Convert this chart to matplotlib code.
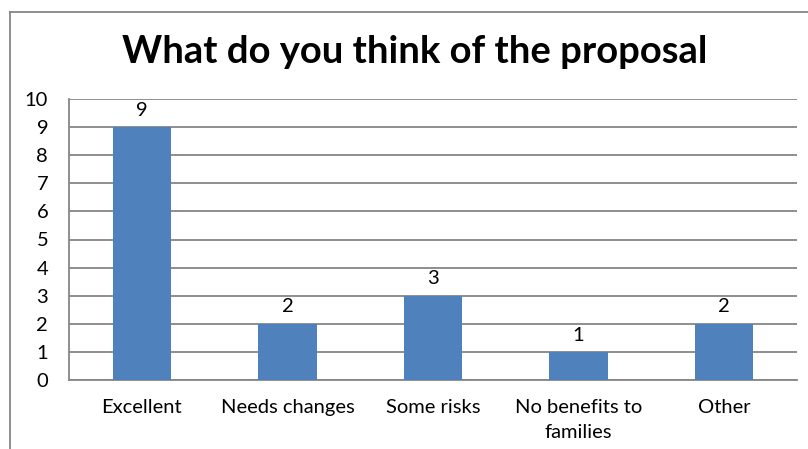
import matplotlib.pyplot as plt
from matplotlib.lines import Line2D

categories = ['Excellent', 'Needs changes', 'Some risks', 'No benefits to\nfamilies', 'Other']
counts = [9, 2, 3, 1, 2]

W, H = 808, 449
plt.rcParams['font.family'] = ['Lato', 'DejaVu Sans']

fig = plt.figure(figsize=(W / 100, H / 100), dpi=100)
ax = fig.add_axes([69 / W, 1 - 380 / H, (797 - 69) / W, (380 - 99) / H])

bar_color = '#4F81BD'
grid_color = '#868686'

x = range(len(categories))
bars = ax.bar(x, counts, width=0.4, color=bar_color, zorder=3)
for b, v in zip(bars, counts):
    ax.annotate(str(v), (b.get_x() + b.get_width() / 2, v), xytext=(0, 6),
                textcoords='offset points', ha='center', va='bottom', fontsize=14.5)

ax.set_xlim(-0.5, len(categories) - 0.5)
ax.set_ylim(0, 10)
ax.set_yticks(range(0, 11))
ax.set_xticks(list(x))
ax.set_xticklabels(categories, fontsize=14.5, linespacing=1.55)
ax.tick_params(axis='y', labelsize=14.5, length=0, pad=15)
ax.tick_params(axis='x', length=0, pad=14)
ax.yaxis.grid(True, color=grid_color, linewidth=1.3, zorder=0)

for side in ['top', 'right']:
    ax.spines[side].set_visible(False)
for side in ['left', 'bottom']:
    ax.spines[side].set_color(grid_color)
    ax.spines[side].set_linewidth(1.3)

fig.text(415 / W, 1 - 52 / H, 'What do you think of the proposal', ha='center', va='center',
         fontsize=27.5, fontweight='bold')

# chart frame
fig.add_artist(Line2D([10 / W, 10 / W], [1 - 12 / H, 0], color=grid_color, linewidth=1.3))
fig.add_artist(Line2D([10 / W, 1], [1 - 12 / H, 1 - 12 / H], color=grid_color, linewidth=1.3))

fig.savefig('out.png', dpi=100)
